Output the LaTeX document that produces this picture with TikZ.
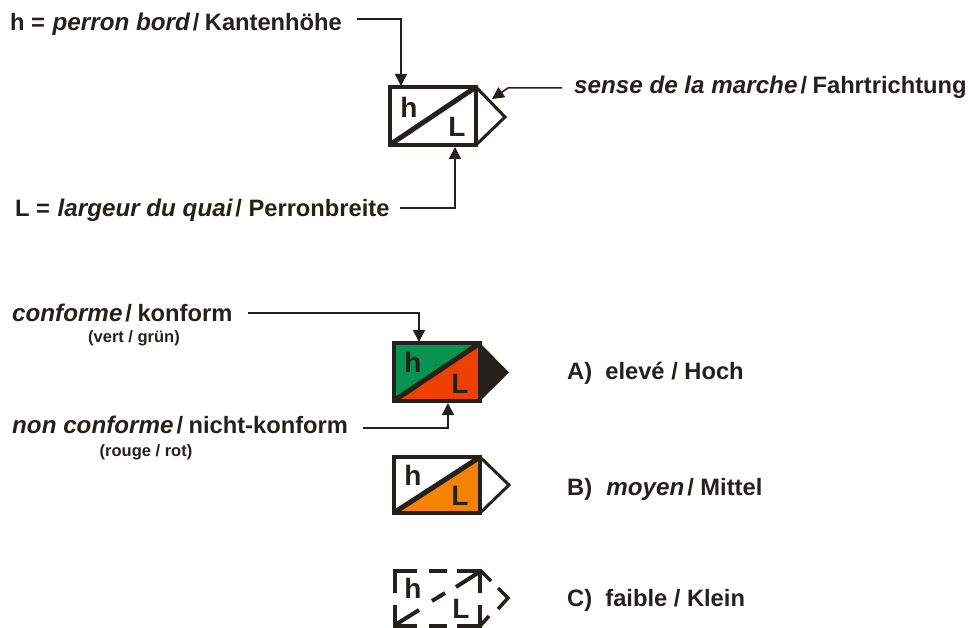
\documentclass[tikz,border=0pt]{standalone}
\usepackage{fontspec}
\setmainfont{Liberation Sans}
\usetikzlibrary{arrows.meta}
\definecolor{ink}{HTML}{24211C}
\definecolor{vert}{HTML}{069450}
\definecolor{rouge}{HTML}{EE4000}
\definecolor{orangeb}{HTML}{F58200}
\newcommand{\slsh}{\kern3pt/\kern5.5pt}
\newcommand{\itl}[1]{{\fontsize{24.2}{26}\selectfont\itshape #1}}
\tikzset{
 x=1pt,y=-1pt,
 lbl/.style={anchor=base west,inner sep=0pt,font=\fontsize{23.7}{26}\bfseries\selectfont,text=ink},
 small/.style={anchor=base,inner sep=0pt,font=\fontsize{16.5}{18}\bfseries\selectfont,text=ink},
 letter/.style={anchor=base,inner sep=0pt,font=\fontsize{28}{30}\bfseries\selectfont,text=ink},
 conn/.style={draw=ink,line width=1.5pt,-{Triangle[length=12pt,width=12pt]}},
 frame/.style={draw=ink,line width=4pt,miter limit=10,line join=miter},
 thin frame/.style={draw=ink,line width=3pt,line join=miter},
 dashpiece/.style={draw=ink,line width=4pt}
}
\begin{document}
\begin{tikzpicture}
\useasboundingbox (0,0) rectangle (968,628);
% labels
\node[lbl] (lh) at (10,31) {h = \kern1pt\itl{perron bord}\slsh Kantenhöhe};
\node[lbl] (ls) at (574,94) {\itl{sense de la marche}\slsh Fahrtrichtung};
\node[lbl] (ll) at (15,217) {L = \kern1pt\itl{largeur du quai}\slsh\kern1pt Perronbreite};
\node[lbl] (lc) at (12,321) {\itl{conforme}\slsh konform};
\node[small] (lv) at (134,342) {(vert / grün)};
\node[lbl] (ln) at (12,433) {\itl{non conforme}\slsh nicht-konform};
\node[small] (lr) at (146,456) {(rouge / rot)};
\node[lbl] (la) at (567,379) {A)\ \ elevé / Hoch};
\node[lbl] (lb) at (567,495) {B)\ \ \kern1pt\itl{moyen}\slsh\kern1pt Mittel};
\node[lbl] (lcc) at (567,606) {C)\ \ faible / Klein};
% box 1
\draw[thin frame] (476,87) -- (505,117) -- (476,145);
\draw[frame] (390,87) rectangle (476,145);
\draw[draw=ink,line width=5pt] (391,144) -- (476,87);
\node[letter] (h1) at (409,118) {h};
\node[letter] (l1) at (457,137) {L};
% box 2
\fill[vert] (394,343) rectangle (480,401);
\fill[rouge] (394,401) -- (480,343) -- (480,401) -- cycle;
\fill[ink] (480,343) -- (509,372.5) -- (480,401) -- cycle;
\draw[frame] (394,343) rectangle (480,401);
\draw[draw=ink,line width=5pt] (395,400) -- (480,343);
\node[letter] (h2) at (413,372) {h};
\node[letter] (l2) at (460,393) {L};
% box 3
\fill[orangeb] (394,513) -- (480,457) -- (480,513) -- cycle;
\draw[thin frame] (480,457) -- (509,485) -- (480,513);
\draw[frame] (394,457) rectangle (480,513);
\draw[draw=ink,line width=5pt] (395,512) -- (480,457);
\node[letter] (h3) at (413,485) {h};
\node[letter] (l3) at (460,505) {L};
% box 4 dashed
\draw[dashpiece] (395,593) -- (395,570.5) -- (417,570.5);
\draw[dashpiece] (429,570.5) -- (447,570.5);
\draw[dashpiece] (456,587) -- (481,571);
\draw[dashpiece] (457,570.5) -- (480,570.5) -- (480,593);
\draw[draw=ink,line width=3.5pt] (480,570) -- (491,581);
\draw[draw=ink,line width=3.5pt] (498,588) -- (508,598) -- (498,609);
\draw[dashpiece] (432,601) -- (445,593);
\draw[dashpiece] (395,605) -- (395,626) -- (417,626);
\draw[dashpiece] (395,625) -- (419,610);
\draw[dashpiece] (429,626) -- (447,626);
\draw[dashpiece] (457,626) -- (480,626) -- (480,605);
\draw[draw=ink,line width=3.5pt] (480,626) -- (489,616);
\node[letter] (h4) at (413,598) {h};
\node[letter] (l4) at (461,618) {L};
% connector anchors
\coordinate (a1) at (401,86);
\coordinate (s1) at (357,19);
\coordinate (a2) at (492,99);
\coordinate (s2) at (562,88);
\coordinate (a3) at (455,147);
\coordinate (s3) at (400,208);
\coordinate (a4) at (419,342);
\coordinate (s4) at (248,313);
\coordinate (a5) at (448,403);
\coordinate (s5) at (363,428);
\draw[conn] (s1) -| (a1);
\draw[conn] (s2) -- (508,88) -- (a2);
\draw[conn] (s3) -| (a3);
\draw[conn] (s4) -| (a4);
\draw[conn] (s5) -| (a5);
\end{tikzpicture}
\end{document}
